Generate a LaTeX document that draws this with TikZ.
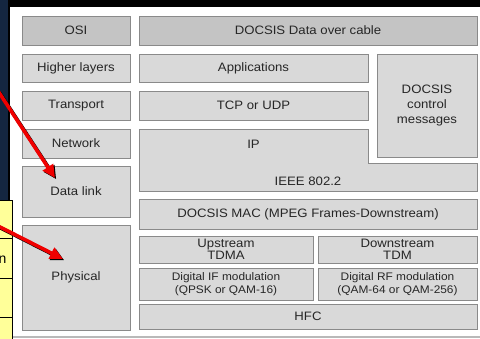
\documentclass[tikz,border=0pt]{standalone}
\usepackage{fontspec}
\setmainfont{Liberation Sans}
\newfontfamily\boxfont[FakeStretch=1.08]{Liberation Sans}
\usetikzlibrary{arrows.meta}
\definecolor{navy}{HTML}{142640}
\definecolor{boxfill}{HTML}{D9D9D9}
\definecolor{headfill}{HTML}{C4C4C4}
\definecolor{boxline}{HTML}{8A8A8A}
\definecolor{textgray}{HTML}{262626}
\definecolor{notefill}{HTML}{FFFF99}
\definecolor{arrowred}{HTML}{F00000}
\tikzset{
  layerbox/.style={draw=boxline, line width=0.9pt, fill=boxfill, inner sep=0pt,
    text=textgray, font=\boxfont\fontsize{12.2}{12.5}\selectfont, align=center},
  smallbox/.style={layerbox, font=\boxfont\fontsize{11}{13}\selectfont},
  headbox/.style={layerbox, fill=headfill},
  plainlabel/.style={inner sep=0pt, text=textgray, font=\boxfont\fontsize{12.2}{12.5}\selectfont},
  pointer/.style={arrowred, line width=3.6pt,
    -{Triangle[length=13pt,width=12pt]}},
  pointershade/.style={black, line width=3.6pt,
    -{Triangle[length=13pt,width=12pt]}}
}
\begin{document}
\begin{tikzpicture}[x=1pt,y=-1pt]
\useasboundingbox (0,0) rectangle (480,338);
% backdrop
\fill[black] (0,0) rectangle (480,338);
\fill[navy] (0,0) rectangle (8,338);
\fill[white] (10,7) rectangle (480,336);
\fill[gray!55] (10,336) rectangle (480,338);

% OSI column
\node[headbox, minimum width=108pt, minimum height=29pt] (osi) at (76,30.5) {OSI};
\node[layerbox, minimum width=108pt, minimum height=28pt] (higher) at (76,68) {Higher layers};
\node[layerbox, minimum width=108pt, minimum height=29pt] (transport) at (76,105.5) {Transport};
\node[layerbox, minimum width=108pt, minimum height=29pt] (network) at (76,143.5) {Network};
\node[layerbox, minimum width=108pt, minimum height=51pt] (datalink) at (76,191.5) {Data link};
\node[layerbox, minimum width=108pt, minimum height=105pt] (physical) at (76,277.5) {Physical};

% DOCSIS stack
\node[headbox, minimum width=338pt, minimum height=29pt] (docsis) at (308,30.5) {DOCSIS Data over cable};
\node[layerbox, minimum width=229pt, minimum height=28pt] (apps) at (253.5,68) {Applications};
\node[layerbox, minimum width=229pt, minimum height=29pt] (tcp) at (253.5,105.5) {TCP or UDP};
\node[layerbox, minimum width=100pt, minimum height=103pt, font=\boxfont\fontsize{12.2}{15}\selectfont]
  (control) at (427,105.5) {DOCSIS\\control\\messages};
\draw[draw=boxline, line width=0.9pt, fill=boxfill]
  (139,129) -- (368,129) -- (368,163) -- (477,163) -- (477,191) -- (139,191) -- cycle;
\node[plainlabel] (ip) at (253.5,144) {IP};
\node[plainlabel] (ieee) at (308,181.5) {IEEE 802.2};
\node[layerbox, minimum width=338pt, minimum height=30pt] (mac) at (308,214)
  {DOCSIS MAC (MPEG Frames-Downstream)};
\node[layerbox, minimum width=174pt, minimum height=27pt] (up) at (226,249.5)
  {Upstream\\TDMA};
\node[layerbox, minimum width=159pt, minimum height=27pt] (down) at (397.5,249.5)
  {Downstream\\TDM};
\node[smallbox, minimum width=174pt, minimum height=32pt] (difm) at (226,284)
  {Digital IF modulation\\(QPSK or QAM-16)};
\node[smallbox, minimum width=159pt, minimum height=32pt] (drfm) at (397.5,284)
  {Digital RF modulation\\(QAM-64 or QAM-256)};
\node[layerbox, minimum width=338pt, minimum height=25pt] (hfc) at (308,316.5) {HFC};

% note table at the left edge
\draw[fill=notefill, line width=1pt] (-2,200) rectangle (12,340);
\draw[line width=1pt] (-2,238) -- (12,238);
\draw[line width=1pt] (-2,278) -- (12,278);
\draw[line width=1pt] (-2,317) -- (12,317);
\node[inner sep=0pt, anchor=base east, font=\fontsize{14}{15}\selectfont] (notetext) at (6.5,263) {n};

% red pointers
\coordinate (p1start) at (-2,91);
\coordinate (p1tip) at (55,178);
\coordinate (p2start) at (-2,226);
\coordinate (p2tip) at (63,259);
\draw[pointershade] ([shift={(1.2,1.2)}]p1start) -- ([shift={(1.2,1.2)}]p1tip);
\draw[pointer] (p1start) -- (p1tip);
\draw[pointershade] ([shift={(1.2,1.2)}]p2start) -- ([shift={(1.2,1.2)}]p2tip);
\draw[pointer] (p2start) -- (p2tip);
\end{tikzpicture}
\end{document}
